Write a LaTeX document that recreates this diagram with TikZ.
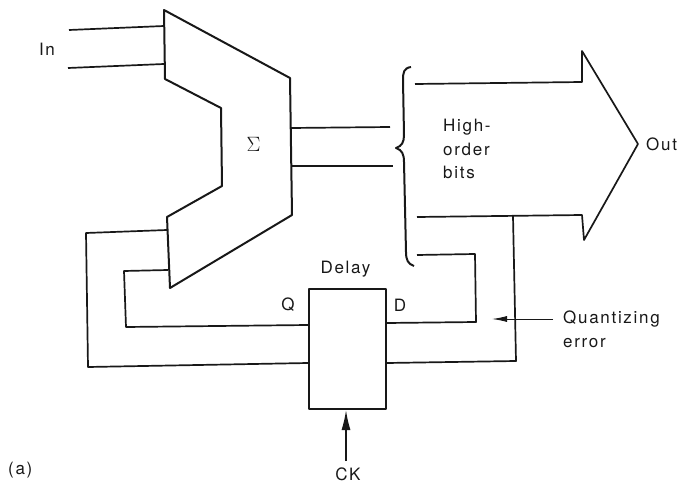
\documentclass[tikz,border=0pt]{standalone}
\usepackage{fontspec}
\setmainfont{TeX Gyre Heros}[LetterSpace=10]
\usepackage{tikz}
\usetikzlibrary{
    arrows.meta,
    positioning,
    calc
}
\definecolor{inkblack}{RGB}{24,24,24}

\begin{document}
\begin{tikzpicture}[
        x=1pt, y=-1pt,
        line join=round,
        wire/.style={
            draw=inkblack,
            line width=1.7pt
        },
        shape outline/.style={
            wire,
            line width=2pt
        },
        delaybox/.style={
            wire,
            line width=2pt,
            minimum width=77pt,
            minimum height=120pt,
            inner sep=0pt
        },
        label/.style={
            text=inkblack,
            font=\fontsize{17}{23.5}\selectfont,
            inner sep=0pt
        },
        pointer/.style={
            -{Latex[length=20pt,width=9pt]},
            draw=inkblack,
            line width=1.5pt
        }
    ]
    \useasboundingbox (0,0) rectangle (683,484);

    % adder outline
    \coordinate (addtl) at (164,10);
    \coordinate (addtr) at (290,78);
    \coordinate (addbr) at (292,215);
    \coordinate (addbl) at (170,288);
    \draw[shape outline] (addtl) -- (addtr) -- (addbr) -- (addbl) -- (167,217)
        -- (222,186) -- (221,108) -- (165,79) -- cycle;
    \node[label, font=\fontsize{20}{20}\selectfont] (sigma) at (253.5,144) {$\Sigma$};

    % output arrow
    \coordinate (outtl) at (415,84);
    \coordinate (outtc) at (582,82);
    \coordinate (outtt) at (582,51);
    \coordinate (outtip) at (638,144);
    \coordinate (outbt) at (584,240);
    \coordinate (outbc) at (582,215);
    \coordinate (outbl) at (417,217);
    \draw[wire] (outtl) -- (outtc) -- (outtt) -- (outtip) -- (outbt) -- (outbc) -- (outbl);

    % brace
    \draw[shape outline] (411,67) .. controls (404,68) and (403,72) .. (403,80)
        -- (404,135) .. controls (404,142) and (402,146) .. (396,148)
        .. controls (402,150) and (404,154) .. (404,162)
        -- (406,252) .. controls (406,260) and (408,264) .. (414,266);

    % delay
    \node[delaybox] (delay) at (347.5,349) {};
    \node[label] (delaytext) at (345.5,269) {Delay};
    \node[label] (qtext) at (288,305) {Q};
    \node[label] (dtext) at (400,305) {D};

    % inputs
    \coordinate (ina) at (69,30);
    \coordinate (inb) at (68,68);
    \draw[wire] (ina) -- (164,26);
    \draw[wire] (inb) -- (164,64);
    \node[label] (intext) at (47,49) {In};

    % sum bits
    \draw[wire] (291,128) -- (390,127);
    \draw[wire] (292,166) -- (393,166);

    % feedback loops
    \draw[wire] (167,230) -- (86,233) -- (88,367) -- (delay.west |- 0,363);
    \draw[wire] (168,270) -- (124,271) -- (126,327) -- (delay.west |- 0,325);
    \draw[wire] (delay.east |- 0,323) -- (476,322) -- (475,254) -- (417,255);
    \draw[wire] (delay.east |- 0,363) -- (516,361) -- (513,216);

    % labels
    \node[label, align=left, anchor=north west] (hightext) at (443,119) {High-\\order\\bits};
    \node[label, anchor=west] (outtext) at (646,144) {Out};
    \node[label, align=left, anchor=north west] (quanttext) at (563,311) {Quantizing\\error};
    \node[label] (cktext) at (348,474) {CK};
    \node[label, anchor=west] (atext) at (8,470) {(a)};

    \draw[pointer, -{Latex[length=15pt,width=6pt]}, line width=1pt] (quanttext.west |- 0,319) ++(-10,0) -- (492,319);
    \draw[pointer] (346,461) -- (delay.south -| 346,0);

\end{tikzpicture}
\end{document}
